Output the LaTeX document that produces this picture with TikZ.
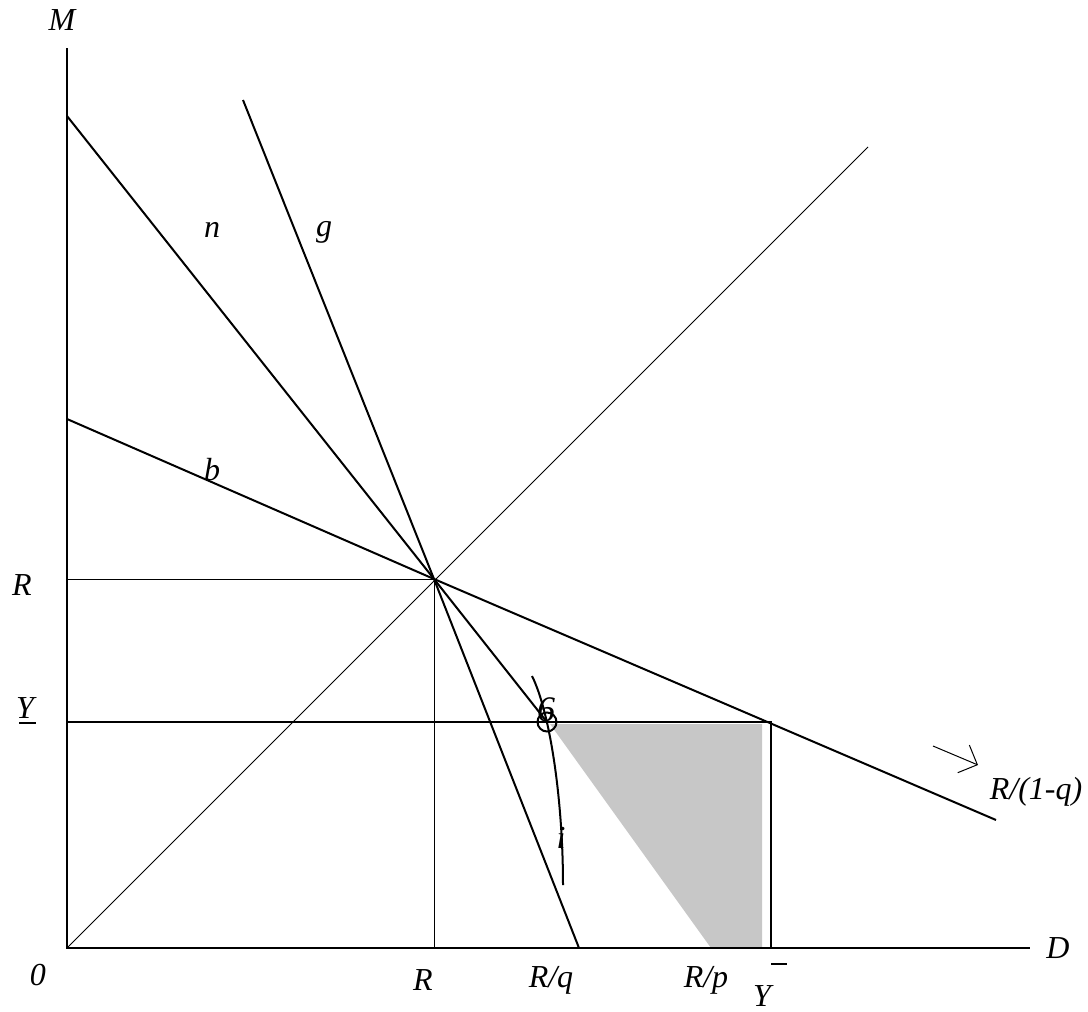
\documentclass[tikz,border=0pt]{standalone}
\usepackage{fontspec}
\setmainfont{Liberation Serif}
\usetikzlibrary{arrows.meta}
\begin{document}
\begin{tikzpicture}[x=1pt,y=-1pt,
  lab/.style={font=\fontsize{32}{38}\selectfont\itshape, inner sep=0pt},
  heavy/.style={line width=2pt},
  light/.style={line width=1pt},
  shade/.style={fill=black!22}]
\useasboundingbox (0,0) rectangle (1088,1012);
% key points
\coordinate (O) at (67,948);
\coordinate (Mtop) at (67,48);
\coordinate (Dend) at (1030,948);
\coordinate (P) at (434,579);
\coordinate (Rl) at (67,579);
\coordinate (Rb) at (434,948);
\coordinate (Dtop) at (868,147);
\coordinate (nS) at (67,116);
\coordinate (E) at (547,722);
\coordinate (gS) at (243,100);
\coordinate (gE) at (579,948);
\coordinate (bS) at (67,419);
\coordinate (bE) at (996,820);
\coordinate (Yl) at (67,722);
\coordinate (Yr) at (771,722);
\coordinate (Yb) at (771,948);
\coordinate (iS) at (532,676);
\coordinate (iE) at (563,885);
\coordinate (aS) at (933,746);
\coordinate (aE) at (978,765);
% shaded region
\fill[shade] (550,724) -- (762,724) -- (762,948) -- (711,948) -- cycle;
% thin guides
\draw[light] (O) -- (Dtop);
\draw[light] (Rl) -- (P) -- (Rb);
% axes
\draw[heavy] (Mtop) -- (O) -- (Dend);
% lines
\draw[heavy] (nS) -- (P) -- (E);
\draw[heavy] (gS) -- (P) -- (gE);
\draw[heavy] (bS) -- (P) -- (bE);
\draw[heavy] (Yl) -- (Yr) -- (Yb);
% curve i
\draw[heavy] (iS) .. controls (550,712) and (563,800) .. (iE);
% circle at point
\node[draw, circle, heavy, minimum size=19pt, inner sep=0pt] (C) at (E) {};
\node[lab, font=\fontsize{36}{40}\selectfont\itshape] (six) at (546,710) {6};
% arrow
\draw[light, -{Straight Barb[length=15pt,width=30pt]}] (aS) -- (aE);
% labels
\node[lab] (M) at (62,20) {M};
\node[lab] (n) at (212,230) {n};
\node[lab] (g) at (324,232) {g};
\node[lab] (b) at (212,470) {b};
\node[lab] (RL) at (22,585) {R};
\node[lab] (YL) at (25,708) {Y};
\draw[heavy] (19,723) -- (36,723);
\node[lab] (zero) at (38,975) {0};
\node[lab] (D) at (1058,948) {D};
\node[lab] (RB) at (423,980) {R};
\node[lab] (Rq) at (551,980) {R/q};
\node[lab] (Rp) at (706,980) {R/p};
\node[lab] (YB) at (762,996) {Y};
\draw[heavy] (771,964) -- (787,964);
\node[lab] (i) at (561,838) {i};
\node[lab] (R1q) at (1036,792) {R/(1-q)};
\end{tikzpicture}
\end{document}
